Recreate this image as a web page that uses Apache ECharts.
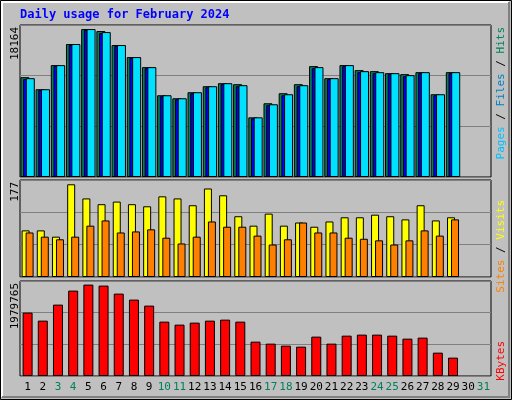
<!DOCTYPE html>
<html>
<head>
<meta charset="utf-8">
<script src="https://cdn.jsdelivr.net/npm/echarts@6/dist/echarts.min.js"></script>
<style>
html, body { margin: 0; padding: 0; background: #fff; }
#chart { width: 512px; height: 400px; }
</style>
</head>
<body>
<div id="chart"></div>
<script>
const days = ['1','2','3','4','5','6','7','8','9','10','11','12','13','14','15','16','17','18','19','20','21','22','23','24','25','26','27','28','29','30','31'];
const weekend = ['3','4','10','11','17','18','24','25','31'];

const hits = [11930,10490,13370,15890,17680,17440,15770,14330,13130,9770,9410,10130,10850,11210,11090,7130,8810,10010,11090,13250,11810,13370,12770,12650,12410,12290,12530,9890,12530];
const files = [11810,10490,13370,15890,17680,17320,15770,14330,13130,9770,9410,10130,10850,11210,10970,7130,8690,9890,10970,13130,11810,13370,12650,12530,12410,12170,12530,9890,12530];
const pages = [11700,10400,13250,15780,17560,17200,15650,14210,13010,9650,9290,10010,10730,11090,10850,7010,8570,9770,10850,13010,11690,13250,12530,12410,12290,12050,12410,9770,12410];
const visits = [89,89,77,177,150,139,144,139,135,154,150,137,169,156,116,98,121,98,104,96,106,114,114,119,116,110,137,108,114];
const sites = [85,77,72,77,98,108,85,87,91,75,64,77,106,96,96,79,62,72,104,85,85,75,73,70,62,70,89,79,110];
const kbytes = [1372750,1199350,1546150,1849600,1979765,1958000,1784600,1654500,1524500,1177700,1112650,1156000,1199350,1221000,1177700,744200,700800,657500,635800,852550,700800,874200,895900,895900,874200,809200,830900,505750,397400];

const maxHits = 18164, maxVisits = 177, maxKB = 1979765;

const chart = echarts.init(document.getElementById('chart'));
const font = 'DejaVu Sans Mono';

function grid(top, height) {
    return { left: 20, right: 21, top, height, show: true, backgroundColor: '#c0c0c0', borderColor: '#000', borderWidth: 1 };
}
function xAxis(idx, showLabels) {
    return {
        gridIndex: idx, type: 'category', data: days,
        axisLine: { show: false }, axisTick: { show: false },
        axisLabel: {
            show: showLabels, margin: 6, interval: 0, fontFamily: font, fontSize: 11,
            formatter: v => weekend.includes(v) ? '{w|' + v + '}' : v,
            color: '#000', rich: { w: { color: '#00805c', fontFamily: font, fontSize: 11 } }
        }
    };
}
function yAxis(idx, max) {
    return {
        gridIndex: idx, type: 'value', min: 0, max, interval: max / 3,
        axisLabel: { show: false }, axisLine: { show: false }, axisTick: { show: false },
        splitLine: { lineStyle: { color: '#808080', width: 1 } }
    };
}
function bar(name, data, color, x, y, width, gap) {
    return {
        name, type: 'bar', data, xAxisIndex: x, yAxisIndex: y, barWidth: width, barGap: gap,
        itemStyle: { color, borderColor: '#000', borderWidth: 1 }, silent: true, animation: false
    };
}
function vtext(x, y, parts) {
    return {
        type: 'text', x, y, rotation: Math.PI / 2,
        style: {
            text: parts.map((p, i) => '{s' + i + '|' + p[0] + '}').join(''),
            rich: Object.fromEntries(parts.map((p, i) => ['s' + i, { fill: p[1], fontFamily: font, fontSize: 11 }])),
            align: 'right', verticalAlign: 'top'
        }
    };
}

chart.setOption({
    backgroundColor: '#c0c0c0',
    animation: false,
    grid: [grid(25, 152), grid(180, 97), grid(281, 95)],
    xAxis: [xAxis(0, false), xAxis(1, false), xAxis(2, true)],
    yAxis: [yAxis(0, maxHits), yAxis(1, 185.2), yAxis(2, 2057740)],
    series: [
        bar('Hits', hits, '#00805c', 0, 0, 9, '-70%'),
        bar('Pages', pages, '#0000ff', 0, 0, 9, '-70%'),
        bar('Files', files, '#00e0ff', 0, 0, 9, '-70%'),
        bar('Visits', visits, '#ffff00', 1, 1, 8, '-50%'),
        bar('Sites', sites, '#ff8000', 1, 1, 8, '-50%'),
        bar('KBytes', kbytes, '#ff0000', 2, 2, 10, '0%')
    ],
    graphic: [
        { type: 'rect', shape: { x: 0.5, y: 0.5, width: 511, height: 399 }, style: { fill: 'none', stroke: '#000', lineWidth: 1 } },
        { type: 'polyline', shape: { points: [[2, 397], [2, 2], [509, 2]] }, style: { stroke: '#fff', lineWidth: 2, fill: 'none' } },
        { type: 'polyline', shape: { points: [[509, 2], [509, 397], [2, 397]] }, style: { stroke: '#808080', lineWidth: 2, fill: 'none' } },
        { type: 'text', x: 20, y: 9, style: { text: 'Daily usage for February 2024', fill: '#0000ff', fontFamily: font, fontWeight: 'bold', fontSize: 12 } },
        { type: 'text', x: 10, y: 27, rotation: Math.PI / 2, style: { text: String(maxHits), fill: '#000', fontFamily: font, fontSize: 11, align: 'right', verticalAlign: 'top' } },
        { type: 'text', x: 10, y: 182, rotation: Math.PI / 2, style: { text: String(maxVisits), fill: '#000', fontFamily: font, fontSize: 11, align: 'right', verticalAlign: 'top' } },
        { type: 'text', x: 10, y: 283, rotation: Math.PI / 2, style: { text: String(maxKB), fill: '#000', fontFamily: font, fontSize: 11, align: 'right', verticalAlign: 'top' } },
        vtext(496, 27, [['Pages', '#00c0ff'], [' / ', '#000'], ['Files', '#0080c0'], [' / ', '#000'], ['Hits', '#00805c']]),
        vtext(496, 200, [['Sites', '#ff8000'], [' / ', '#000'], ['Visits', '#ffff00']]),
        vtext(496, 341, [['KBytes', '#ff0000']])
    ]
});
</script>
</body>
</html>
